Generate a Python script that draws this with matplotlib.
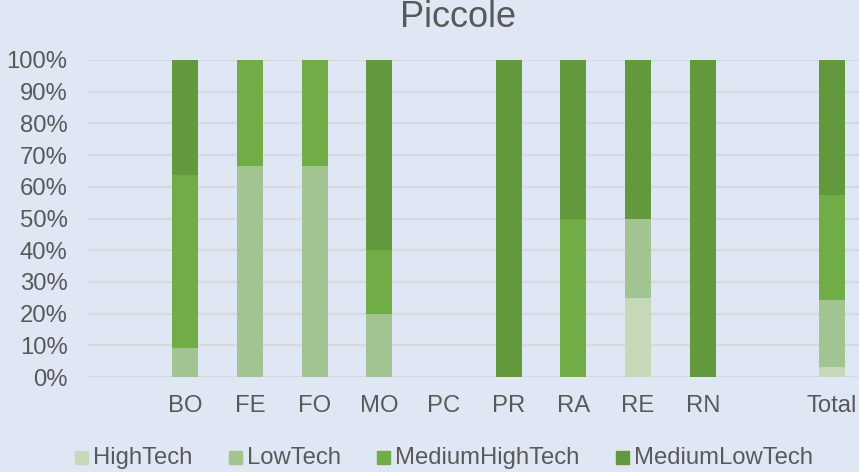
import matplotlib.pyplot as plt
import numpy as np
from matplotlib.patches import Rectangle
from matplotlib.ticker import PercentFormatter

categories = ['', 'BO', 'FE', 'FO', 'MO', 'PC', 'PR', 'RA', 'RE', 'RN', '', 'Total']
high_tech = [0, 0, 0, 0, 0, 0, 0, 0, 25, 0, 0, 3.0]
low_tech = [0, 9.1, 66.7, 66.7, 20, 0, 0, 0, 25, 0, 0, 21.2]
medium_high = [0, 54.5, 33.3, 33.3, 20, 0, 0, 50, 0, 0, 0, 33.3]
medium_low = [0, 36.4, 0, 0, 60, 0, 100, 50, 50, 100, 0, 42.5]

series = [('HighTech', high_tech, '#c5d9b9'),
          ('LowTech', low_tech, '#a2c490'),
          ('MediumHighTech', medium_high, '#70ad47'),
          ('MediumLowTech', medium_low, '#62993d')]

plt.rcParams['font.family'] = ['Liberation Sans', 'DejaVu Sans']
bg = '#e0e7f4'
txt = '#595959'

W, H = 859, 472
fig = plt.figure(figsize=(W / 100, H / 100), dpi=100, facecolor=bg)
ax = fig.add_axes([88.3 / W, 95 / H, 776.2 / W, 317 / H], facecolor=bg)

x = np.arange(len(categories))
bottom = np.zeros(len(categories))
for name, vals, col in series:
    vals = np.array(vals, dtype=float)
    ax.bar(x, vals, 0.4, bottom=bottom, color=col, label=name, zorder=3)
    bottom += vals

ax.set_xlim(-0.5, len(categories) - 0.5)
ax.set_ylim(0, 100)
ax.set_yticks(np.arange(0, 101, 10))
ax.yaxis.set_major_formatter(PercentFormatter(decimals=0))
ax.set_xticks(x)
ax.set_xticklabels(categories)
ax.grid(axis='y', color='#d6d9de', linewidth=1.6, zorder=0)
for s in ax.spines.values():
    s.set_visible(False)
ax.tick_params(length=0, labelsize=17.2, colors=txt)
ax.tick_params(axis='x', pad=13)
ax.tick_params(axis='y', pad=15)

fig.text(458 / W, 1 - 27 / H, 'Piccole', ha='center', va='baseline', fontsize=26, color=txt)

# legend drawn by hand so the entries sit where the reference has them
leg_x = [75, 229, 377, 616]
for (name, vals, col), lx in zip(series, leg_x):
    fig.patches.append(Rectangle((lx / W, 1 - 464 / H), 13 / W, 13 / H,
                                 transform=fig.transFigure, color=col))
    fig.text((lx + 18) / W, 1 - 458 / H, name, ha='left', va='center',
             fontsize=17.2, color=txt)

fig.savefig('out.png', dpi=100, facecolor=bg)
